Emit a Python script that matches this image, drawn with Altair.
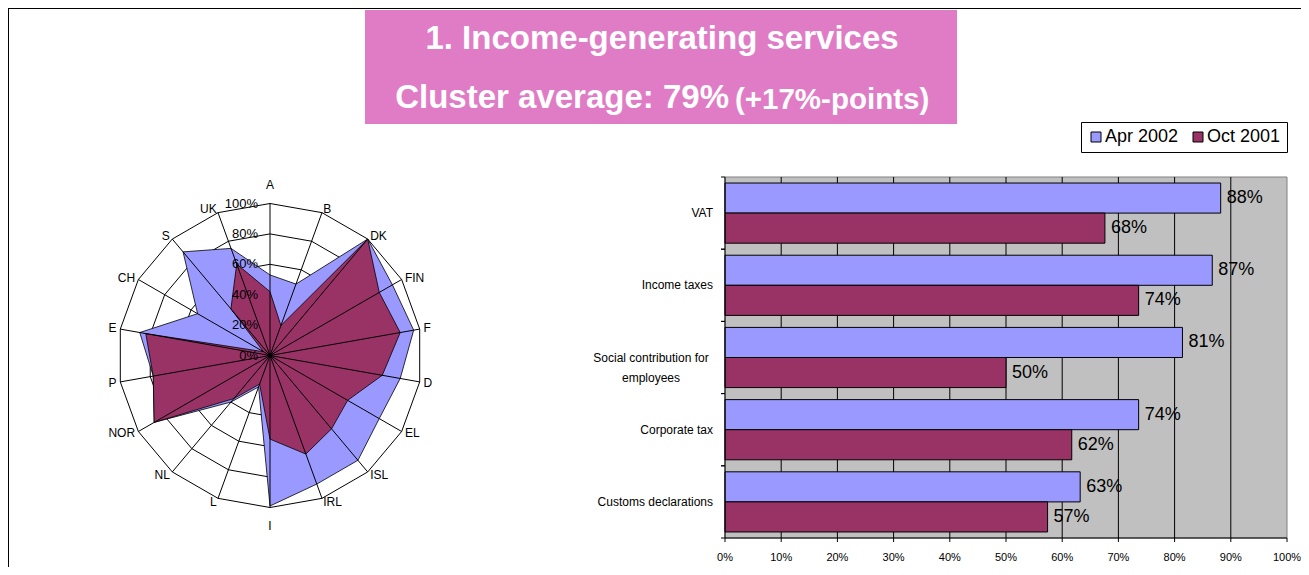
import altair as alt
import pandas as pd

FONT = "Liberation Sans, Arial, sans-serif"
W, H = 1293, 559

# ---------------- data ----------------
countries = ["A", "B", "DK", "FIN", "F", "D", "EL", "ISL", "IRL", "I",
             "L", "NL", "NOR", "P", "E", "CH", "S", "UK"]
radar_apr2002 = [0.53, 0.50, 1.00, 0.93, 0.96, 0.87, 0.83, 0.90, 0.90, 0.99,
                 0.22, 0.40, 0.88, 0.78, 0.87, 0.55, 0.89, 0.75]
radar_oct2001 = [0.42, 0.21, 1.00, 0.83, 0.87, 0.75, 0.59, 0.63, 0.69, 0.55,
                 0.20, 0.37, 0.88, 0.78, 0.83, 0.05, 0.40, 0.64]
ring_levels = [0.0, 0.2, 0.4, 0.6, 0.8, 1.0]
ring_labels = ["0%", "20%", "40%", "60%", "80%", "100%"]

services = ["VAT", "Income taxes", "Social contribution for employees",
            "Corporate tax", "Customs declarations"]
service_labels = ["VAT", "Income taxes", "Social contribution for\nemployees",
                  "Corporate tax", "Customs declarations"]
bar_apr2002 = [0.882, 0.867, 0.814, 0.736, 0.632]
bar_oct2001 = [0.676, 0.736, 0.500, 0.617, 0.574]
x_ticks = [0.0, 0.1, 0.2, 0.3, 0.4, 0.5, 0.6, 0.7, 0.8, 0.9, 1.0]

series = ["Apr 2002", "Oct 2001"]
series_colors = ["#9999FF", "#993366"]

title_line1 = "1. Income-generating services"
title_line2 = "Cluster average: 79%"
title_note = "(+17%-points)"
PINK = "#E07CC6"

# ---------------- tables ----------------
radar_rows = []
for i, c in enumerate(countries):
    radar_rows.append({"idx": i, "cat": c, "series": series[0], "value": radar_apr2002[i]})
    radar_rows.append({"idx": i, "cat": c, "series": series[1], "value": radar_oct2001[i]})
radar_df = pd.DataFrame(radar_rows)
cat_df = pd.DataFrame({"idx": list(range(len(countries))), "cat": countries})
ring_df = pd.DataFrame([{"idx": i, "level": lv} for lv in ring_levels[1:] for i in range(len(countries))])
ring_lbl_df = pd.DataFrame({"level": ring_levels, "label": ring_labels})

bar_rows = []
for i, s in enumerate(services):
    bar_rows.append({"cat": s, "series": series[0], "value": bar_apr2002[i]})
    bar_rows.append({"cat": s, "series": series[1], "value": bar_oct2001[i]})
bar_df = pd.DataFrame(bar_rows)
lab_df = pd.DataFrame({"cat": services, "label": service_labels})
tick_df = pd.DataFrame({"t": x_ticks})
one = pd.DataFrame({"k": [0]})

N = len(countries)
ANG = f"datum.idx*2*PI/{N}"

# ---------------- radar ----------------
CX, CY, R = 262, 347.5, 152
xs = alt.Scale(domain=[-1, 1], range=[CX - R, CX + R], nice=False, zero=False)
ys = alt.Scale(domain=[-1, 1], range=[CY + R, CY - R], nice=False, zero=False)

rings = alt.Chart(ring_df).transform_calculate(
    ang=ANG, px="datum.level*sin(datum.ang)", py="datum.level*cos(datum.ang)"
).mark_line(interpolate="linear-closed", stroke="black", strokeWidth=1).encode(
    x=alt.X("px:Q", scale=xs, axis=None),
    y=alt.Y("py:Q", scale=ys, axis=None),
    detail="level:N", order="idx:Q")

def poly(name, color):
    return alt.Chart(radar_df).transform_filter(
        alt.datum.series == name
    ).transform_calculate(
        ang=ANG, px="datum.value*sin(datum.ang)", py="datum.value*cos(datum.ang)"
    ).mark_line(interpolate="linear-closed", fill=color, stroke="black",
                strokeWidth=0.8, fillOpacity=1).encode(
        x=alt.X("px:Q", scale=xs, axis=None),
        y=alt.Y("py:Q", scale=ys, axis=None),
        order="idx:Q")

spokes = alt.Chart(cat_df).transform_calculate(
    ang=ANG, sx="sin(datum.ang)", sy="cos(datum.ang)", z="0"
).mark_rule(color="black", strokeWidth=1).encode(
    x=alt.X("z:Q", scale=xs, axis=None), y=alt.Y("z:Q", scale=ys, axis=None),
    x2="sx:Q", y2="sy:Q")

lbl_base = alt.Chart(cat_df).transform_calculate(
    ang=ANG, s="sin(datum.ang)", c="cos(datum.ang)",
    lx="1.025*datum.s", ly="1.025*datum.c", my="1.12*datum.c")
lbl_enc = dict(x=alt.X("lx:Q", scale=xs, axis=None), y=alt.Y("ly:Q", scale=ys, axis=None), text="cat:N")
lbl_right = lbl_base.transform_filter("datum.s > 0.01").mark_text(
    align="left", baseline="middle", font=FONT, fontSize=12, color="black").encode(**lbl_enc)
lbl_left = lbl_base.transform_filter("datum.s < -0.01").mark_text(
    align="right", baseline="middle", font=FONT, fontSize=12, color="black").encode(**lbl_enc)
lbl_mid = lbl_base.transform_filter("abs(datum.s) <= 0.01").mark_text(
    align="center", baseline="middle", font=FONT, fontSize=12, color="black").encode(
    x=alt.X("lx:Q", scale=xs, axis=None), y=alt.Y("my:Q", scale=ys, axis=None), text="cat:N")

pct = alt.Chart(ring_lbl_df).transform_calculate(z="0").mark_text(
    align="right", baseline="middle", dx=-12, font=FONT, fontSize=13, color="black").encode(
    x=alt.X("z:Q", scale=xs, axis=None), y=alt.Y("level:Q", scale=ys, axis=None), text="label:N")

radar = alt.layer(rings, poly(series[0], series_colors[0]), poly(series[1], series_colors[1]),
                  spokes, lbl_right, lbl_left, lbl_mid, pct)

# ---------------- bars ----------------
PX0, PX1, PY0, PY1 = 717, 1279, 169, 530
xsb = alt.Scale(domain=[0, 1], range=[PX0, PX1], nice=False, zero=False)
ysb = alt.Scale(domain=services, range=[PY0, PY1], paddingInner=0, paddingOuter=0)

bg = alt.Chart(one).mark_rect(fill="#C0C0C0", stroke="#808080", strokeWidth=1).encode(
    x=alt.value(PX0), x2=alt.value(PX1), y=alt.value(PY0), y2=alt.value(PY1))
grid = alt.Chart(tick_df).transform_filter("datum.t > 0 && datum.t < 1").mark_rule(
    color="black", strokeWidth=1).encode(
    x=alt.X("t:Q", scale=xsb, axis=None), y=alt.value(PY0), y2=alt.value(PY1))

yenc = alt.Y("cat:N", scale=ysb, axis=None, sort=services)
yoff = alt.YOffset("series:N", sort=series, scale=alt.Scale(paddingOuter=0.2, paddingInner=0))

bars = alt.Chart(bar_df).mark_bar(stroke="black", strokeWidth=1).encode(
    y=yenc, yOffset=yoff,
    x=alt.X("value:Q", scale=xsb, axis=None),
    color=alt.Color("series:N", scale=alt.Scale(domain=series, range=series_colors),
                    legend=alt.Legend(orient="none", legendX=1073, legendY=114,
                                      direction="horizontal", title=None,
                                      symbolType="square", symbolSize=100,
                                      symbolStrokeColor="black", symbolStrokeWidth=1,
                                      labelFont=FONT, labelFontSize=18, labelColor="black",
                                      padding=6, strokeColor="black", fillColor="white",
                                      columnPadding=10, labelOffset=0)))
vals = alt.Chart(bar_df).mark_text(align="left", baseline="middle", dx=6,
                                   font=FONT, fontSize=18, color="black").encode(
    y=yenc, yOffset=yoff, x=alt.X("value:Q", scale=xsb, axis=None),
    text=alt.Text("value:Q", format=".0%"))

ylab1 = alt.Chart(lab_df).transform_filter("indexof(datum.label, '\\n') < 0").mark_text(
    align="right", baseline="middle", font=FONT, fontSize=12, color="black").encode(
    y=yenc, x=alt.value(705), text="label:N")
ylab2 = alt.Chart(lab_df).transform_filter("indexof(datum.label, '\\n') >= 0").mark_text(
    align="center", baseline="middle", font=FONT, fontSize=12, color="black",
    lineBreak="\n", lineHeight=20).encode(
    y=yenc, x=alt.value(643), text="label:N")

yt0 = alt.Chart(lab_df).mark_rule(color="black").encode(
    y=alt.Y("cat:N", scale=ysb, axis=None, sort=services, bandPosition=0),
    x=alt.value(PX0 - 4), x2=alt.value(PX0))
yt1 = alt.Chart(lab_df).mark_rule(color="black").encode(
    y=alt.Y("cat:N", scale=ysb, axis=None, sort=services, bandPosition=1),
    x=alt.value(PX0 - 4), x2=alt.value(PX0))
xt = alt.Chart(tick_df).mark_rule(color="black").encode(
    x=alt.X("t:Q", scale=xsb, axis=None), y=alt.value(PY1), y2=alt.value(PY1 + 4))
xl = alt.Chart(tick_df).mark_text(baseline="middle", font=FONT, fontSize=11, color="black").encode(
    x=alt.X("t:Q", scale=xsb, axis=None), y=alt.value(550), text=alt.Text("t:Q", format=".0%"))
yaxis = alt.Chart(one).mark_rule(color="black").encode(
    x=alt.value(PX0), y=alt.value(PY0), y2=alt.value(PY1))
xaxis = alt.Chart(one).mark_rule(color="black").encode(
    x=alt.value(PX0), x2=alt.value(PX1), y=alt.value(PY1))

barchart = alt.layer(bg, grid, bars, vals, ylab1, ylab2, yt0, yt1, xt, xl, yaxis, xaxis)

# ---------------- decorations ----------------
frame_top = alt.Chart(one).mark_rule(color="black", strokeWidth=2).encode(
    x=alt.value(0), x2=alt.value(W + 20), y=alt.value(0))
frame_left = alt.Chart(one).mark_rule(color="black", strokeWidth=2).encode(
    x=alt.value(0), y=alt.value(0), y2=alt.value(H + 20))
title_box = alt.Chart(one).mark_rect(fill=PINK).encode(
    x=alt.value(357), x2=alt.value(949), y=alt.value(2), y2=alt.value(116))
t1 = alt.Chart(pd.DataFrame({"t": [title_line1]})).mark_text(
    align="center", baseline="middle", font=FONT, fontSize=33, fontWeight="bold", color="white").encode(
    x=alt.value(654), y=alt.value(31), text="t:N")
t2 = alt.Chart(pd.DataFrame({"t": [title_line2]})).mark_text(
    align="right", baseline="middle", font=FONT, fontSize=33, fontWeight="bold", color="white").encode(
    x=alt.value(721), y=alt.value(90), text="t:N")
t3 = alt.Chart(pd.DataFrame({"t": [title_note]})).mark_text(
    align="left", baseline="middle", font=FONT, fontSize=29.5, fontWeight="bold", color="white").encode(
    x=alt.value(727), y=alt.value(92), text="t:N")

chart = alt.layer(frame_top, frame_left, title_box, t1, t2, t3, radar, barchart).resolve_scale(
    x="independent", y="independent"
).properties(
    width=W, height=H, padding=0, autosize=alt.AutoSizeParams(type="none")
).configure_view(strokeWidth=0)

chart.save("out.html", embed_options={"renderer": "svg", "actions": False})
